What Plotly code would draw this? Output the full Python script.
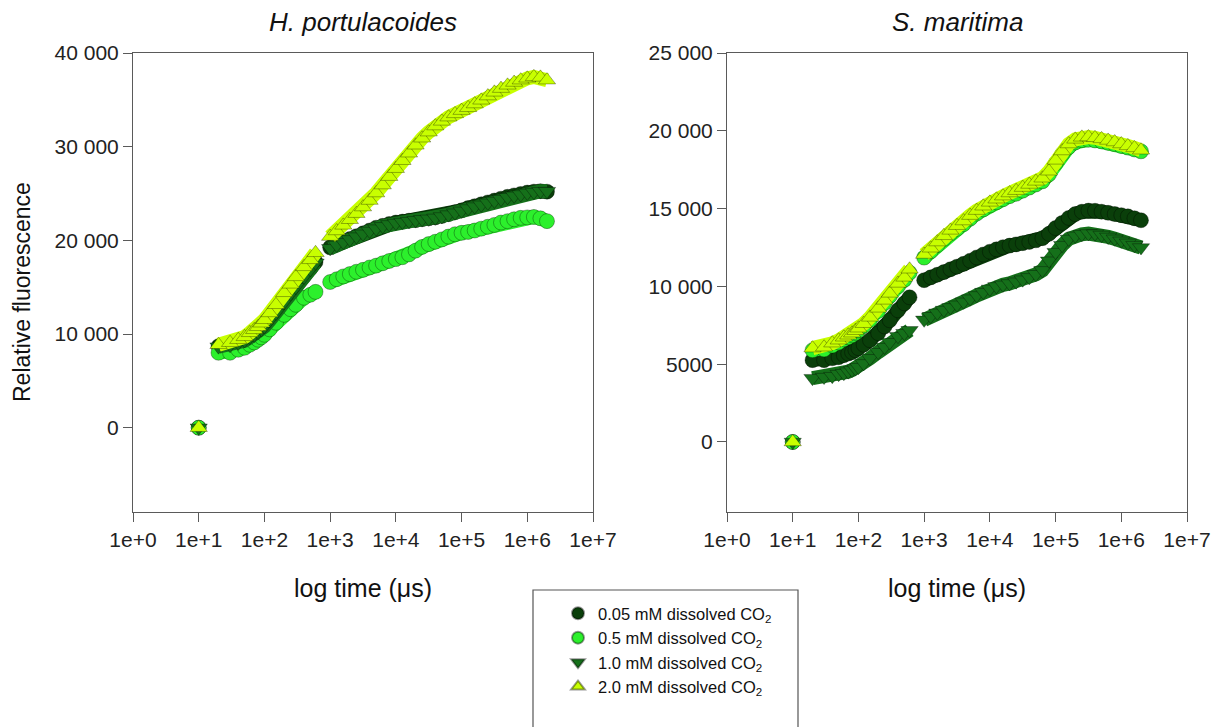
import plotly.graph_objects as go
from plotly.subplots import make_subplots

# ---------------- data ----------------
series_names = [
    "0.05 mM dissolved CO<sub>2</sub>",
    "0.5 mM dissolved CO<sub>2</sub>",
    "1.0 mM dissolved CO<sub>2</sub>",
    "2.0 mM dissolved CO<sub>2</sub>",
]
series_colors = ["#0a3f0a", "#2cf02c", "#15701a", "#c8ff00"]
series_symbols = ["circle", "circle", "triangle-down", "triangle-up"]

# time points (µs)
t0 = [10]
t_fast = [20, 30, 40, 50, 60, 70, 80, 90, 100, 120, 150, 200, 250, 300, 400, 500, 600]
t_slow = [1000, 1259, 1585, 1995, 2512, 3162, 3981, 5012, 6310, 7943,
          10000, 12589, 15849, 19953, 25119, 31623, 39811, 50119, 63096, 79433,
          100000, 125893, 158489, 199526, 251189, 316228, 398107, 501187, 630957, 794328,
          1000000, 1258925, 1584893, 1995262]

y0 = [0]

# H. portulacoides
hp_005_fast = [8700, 8850, 9100, 9350, 9700, 9950, 10250, 10550, 10850, 11500, 12300, 13500, 14400, 15100, 16200, 17000, 17700]
hp_05_fast = [8000, 8000, 8320, 8530, 8850, 9100, 9390, 9650, 9920, 10500, 11200, 12050, 12650, 13120, 13870, 14190, 14500]
hp_10_fast = [8650, 8800, 9050, 9300, 9650, 9900, 10200, 10500, 10800, 11450, 12250, 13400, 14300, 15000, 16100, 16900, 17600]
hp_20_fast = [8850, 9070, 9390, 9700, 10130, 10450, 10770, 11150, 11520, 12250, 13120, 14400, 15300, 16100, 17170, 17920, 18670]

hp_005_slow = [19250, 19550, 19850, 20150, 20450, 20750, 21050, 21350, 21550, 21750,
               21900, 22000, 22100, 22150, 22250, 22350, 22450, 22600, 22800, 23000,
               23200, 23450, 23650, 23850, 24050, 24250, 24450, 24650, 24800, 24950,
               25100, 25200, 25250, 25200]
hp_05_slow = [15550, 15850, 16150, 16400, 16650, 16850, 17100, 17300, 17550, 17800,
              18000, 18200, 18500, 18900, 19300, 19600, 19850, 20100, 20400, 20650,
              20800, 20900, 21050, 21250, 21450, 21650, 21900, 22050, 22250, 22400,
              22450, 22500, 22350, 22050]
hp_10_slow = [19150, 19500, 19800, 20100, 20400, 20700, 21000, 21250, 21500, 21700,
              21850, 21950, 22050, 22150, 22250, 22300, 22400, 22550, 22750, 22950,
              23150, 23400, 23600, 23800, 24000, 24200, 24400, 24600, 24750, 24900,
              25050, 25150, 25250, 25250]
hp_20_slow = [20400, 21000, 21600, 22200, 22850, 23550, 24250, 25050, 25900, 26800,
              27650, 28500, 29300, 30150, 30900, 31550, 32200, 32700, 33150, 33500,
              33850, 34150, 34550, 34950, 35400, 35800, 36200, 36550, 36850, 37100,
              37300, 37450, 37400, 37100]

# S. maritima
sm_005_fast = [5260, 5260, 5380, 5450, 5580, 5680, 5770, 5900, 6030, 6250, 6540, 6990, 7420, 7820, 8460, 8910, 9300]
sm_05_fast = [5900, 5950, 6200, 6400, 6600, 6730, 6860, 7000, 7170, 7450, 7850, 8420, 8930, 9380, 10000, 10420, 10880]
sm_10_fast = [4100, 4170, 4230, 4360, 4420, 4520, 4620, 4720, 4810, 5050, 5380, 5770, 6100, 6410, 6800, 6990, 7180]
sm_20_fast = [6030, 6090, 6350, 6540, 6730, 6860, 6990, 7150, 7310, 7600, 8010, 8590, 9100, 9550, 10190, 10580, 11100]

sm_005_slow = [10400, 10580, 10750, 10920, 11100, 11270, 11450, 11650, 11860, 12050,
               12230, 12380, 12520, 12620, 12700, 12780, 12860, 12960, 13100, 13380,
               13750, 14080, 14400, 14650, 14800, 14870, 14860, 14800, 14730, 14650,
               14580, 14500, 14380, 14250]
sm_05_slow = [11850, 12250, 12650, 13050, 13400, 13700, 14000, 14350, 14680, 14950,
              15200, 15400, 15600, 15800, 15950, 16150, 16350, 16550, 16750, 17200,
              17900, 18500, 18950, 19250, 19400, 19420, 19380, 19320, 19230, 19140,
              19020, 18920, 18800, 18680]
sm_10_slow = [7850, 8080, 8300, 8480, 8650, 8820, 9010, 9210, 9420, 9630,
              9840, 10000, 10100, 10190, 10300, 10430, 10580, 10780, 11030, 11650,
              12200, 12650, 13050, 13250, 13350, 13400, 13390, 13300, 13180, 13060,
              12930, 12800, 12650, 12500]
sm_20_slow = [12050, 12450, 12850, 13250, 13600, 13900, 14200, 14550, 14870, 15150,
              15400, 15600, 15800, 16000, 16150, 16350, 16550, 16750, 16950, 17400,
              18100, 18700, 19150, 19450, 19580, 19600, 19550, 19480, 19380, 19280,
              19150, 19030, 18900, 18750]

hp_fast = [hp_005_fast, hp_05_fast, hp_10_fast, hp_20_fast]
hp_slow = [hp_005_slow, hp_05_slow, hp_10_slow, hp_20_slow]
sm_fast = [sm_005_fast, sm_05_fast, sm_10_fast, sm_20_fast]
sm_slow = [sm_005_slow, sm_05_slow, sm_10_slow, sm_20_slow]

panel_titles = ["<i>H. portulacoides</i>", "<i>S. maritima</i>"]
x_tickvals = [1, 10, 100, 1000, 10000, 100000, 1000000, 10000000]
x_ticktext = ["1e+0", "1e+1", "1e+2", "1e+3", "1e+4", "1e+5", "1e+6", "1e+7"]
hp_yticks = [0, 10000, 20000, 30000, 40000]
hp_yticktext = ["0", "10 000", "20 000", "30 000", "40 000"]
sm_yticks = [0, 5000, 10000, 15000, 20000, 25000]
sm_yticktext = ["0", "5000", "10 000", "15 000", "20 000", "25 000"]

# ---------------- figure ----------------
FONT = "Liberation Sans, Arial, sans-serif"
OFF = 8                      # page margin around the plot div
W, H = 1220 - OFF, 727 - OFF


def px(xp):
    return (xp - OFF) / W


def py(yp):
    return 1 - (yp - OFF) / H


fig = make_subplots(rows=1, cols=2)

for col, (fast, slow) in enumerate([(hp_fast, hp_slow), (sm_fast, sm_slow)], start=1):
    for i in range(4):
        # continuous band joining the samples of each recording segment
        fig.add_trace(go.Scatter(
            x=t_fast + [None] + t_slow,
            y=fast[i] + [None] + slow[i],
            mode="lines", connectgaps=False, showlegend=False, hoverinfo="skip",
            line=dict(color=series_colors[i], width=14),
        ), row=1, col=col)
        fig.add_trace(go.Scatter(
            x=t0 + t_fast + t_slow, y=y0 + fast[i] + slow[i],
            mode="markers",
            name=series_names[i],
            showlegend=(col == 1),
            marker=dict(symbol=series_symbols[i], size=15, color=series_colors[i],
                        line=dict(width=0.8, color="rgba(0,0,0,0.4)")),
        ), row=1, col=col)

axis_common = dict(showline=True, linecolor="#5a5a5a", linewidth=1, mirror=True,
                   ticks="outside", ticklen=9, tickcolor="#5a5a5a", showgrid=False,
                   zeroline=False, automargin=False,
                   tickfont=dict(family=FONT, size=21, color="#222"))

xl = [px(133), px(593)]
xr = [px(727), px(1187)]
yd = [py(512), py(53)]

fig.update_layout(
    xaxis=dict(domain=xl, type="log", range=[0, 7], tickvals=x_tickvals, ticktext=x_ticktext, **axis_common),
    xaxis2=dict(domain=xr, type="log", range=[0, 7], tickvals=x_tickvals, ticktext=x_ticktext, **axis_common),
    yaxis=dict(domain=yd, range=[-9000, 40000], tickvals=hp_yticks, ticktext=hp_yticktext, **axis_common),
    yaxis2=dict(domain=yd, range=[-4500, 25000], tickvals=sm_yticks, ticktext=sm_yticktext, **axis_common),
)

annos = [
    dict(text=panel_titles[0], x=(xl[0] + xl[1]) / 2, y=py(22), font=dict(size=26)),
    dict(text=panel_titles[1], x=(xr[0] + xr[1]) / 2, y=py(22), font=dict(size=26)),
    dict(text="log time (μs)", x=(xl[0] + xl[1]) / 2, y=py(588), font=dict(size=25)),
    dict(text="log time (μs)", x=(xr[0] + xr[1]) / 2, y=py(588), font=dict(size=25)),
    dict(text="Relative fluorescence", x=px(22), y=py(292), textangle=-90, font=dict(size=23)),
]
for a in annos:
    a.update(xref="paper", yref="paper", showarrow=False, xanchor="center", yanchor="middle")
    a["font"].update(family=FONT, color="#111")
    fig.add_annotation(**a)

# legend frame (runs off the bottom of the page as in the original)
fig.add_shape(type="rect", xref="paper", yref="paper",
              x0=px(533), x1=px(798), y0=-0.05, y1=py(590),
              line=dict(color="#555", width=1.2), fillcolor="white", layer="below")

fig.update_layout(
    width=W, height=H,
    margin=dict(l=0, r=0, t=0, b=0, autoexpand=False),
    paper_bgcolor="white", plot_bgcolor="white",
    font=dict(family=FONT, color="#111"),
    legend=dict(x=px(558), y=py(596), xanchor="left", yanchor="top",
                borderwidth=0, bgcolor="rgba(0,0,0,0)",
                font=dict(family=FONT, size=16.5, color="#111"),
                itemsizing="constant", tracegroupgap=0),
)

fig.write_html("out.html")
